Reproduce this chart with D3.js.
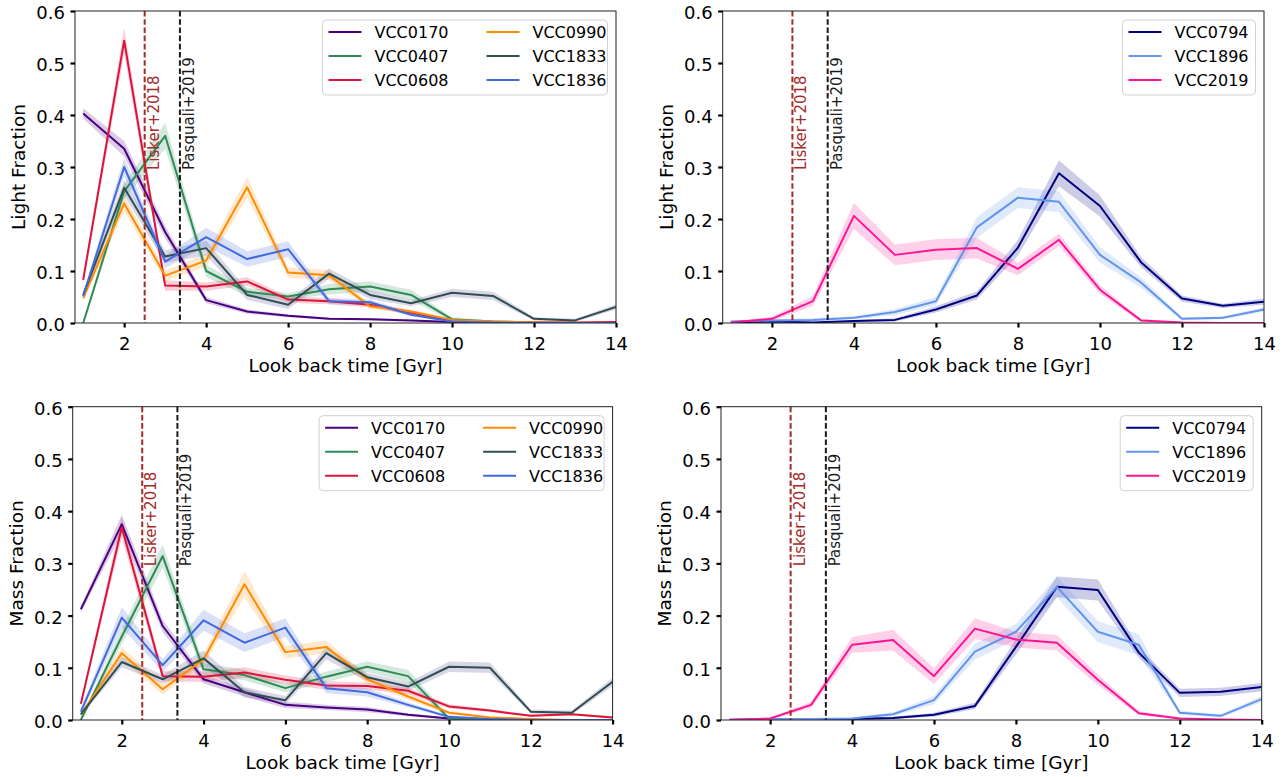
<!DOCTYPE html>
<html><head><meta charset="utf-8">
<script src="https://cdn.jsdelivr.net/npm/d3@7"></script>
<style>
body{margin:0;background:#fff}
svg{display:block}
text{font-family:"DejaVu Sans",sans-serif}
</style>
</head><body>
<svg id="chart" width="1288" height="777"></svg>
<script>
// ---------------- data ----------------
const lookbackGyr = [1,2,3,4,5,6,7,8,9,10,11,12,13,14];
const xTicks = [2,4,6,8,10,12,14];
const yTicks = [0,0.1,0.2,0.3,0.4,0.5,0.6];
const groupA = ["VCC0170","VCC0407","VCC0608","VCC0990","VCC1833","VCC1836"];
const groupB = ["VCC0794","VCC1896","VCC2019"];
const liskerGyr = 2.5;
const pasqualiGyr = 3.36;
const refLabelY = 0.3;

// light fractions
const lightVCC0170 = [0.403,0.335,0.175,0.044,0.022,0.014,0.008,0.007,0.005,0.002,0.001,0,0,0];
const lightVCC0407 = [0.000,0.253,0.360,0.100,0.060,0.051,0.065,0.070,0.054,0.007,0.003,0.001,0,0];
const lightVCC0608 = [0.083,0.543,0.072,0.070,0.080,0.045,0.042,0.035,0.020,0.005,0.002,0.001,0.001,0.002];
const lightVCC0990 = [0.048,0.230,0.091,0.120,0.261,0.097,0.092,0.032,0.022,0.006,0.003,0.001,0,0];
const lightVCC1833 = [0.054,0.260,0.128,0.144,0.054,0.035,0.095,0.054,0.038,0.058,0.052,0.008,0.005,0.031];
const lightVCC1836 = [0.052,0.300,0.118,0.165,0.123,0.142,0.042,0.040,0.016,0.003,0.001,0,0,0];
const lightVCC0794 = [0.001,0.003,0.001,0.004,0.006,0.026,0.053,0.145,0.288,0.225,0.117,0.047,0.033,0.041];
const lightVCC1896 = [0.003,0.005,0.006,0.010,0.021,0.042,0.184,0.241,0.233,0.131,0.078,0.008,0.010,0.026];
const lightVCC2019 = [0.001,0.008,0.042,0.206,0.131,0.141,0.144,0.104,0.160,0.064,0.005,0.001,0,0];

// light fraction uncertainties (half width of band)
const lightErrVCC0170 = [0.010,0.015,0.012,0.006,0.004,0.003,0.002,0.002,0.002,0.001,0.001,0,0,0];
const lightErrVCC0407 = [0.003,0.015,0.025,0.012,0.008,0.006,0.010,0.010,0.010,0.004,0.002,0.001,0.001,0.001];
const lightErrVCC0608 = [0.008,0.025,0.010,0.008,0.008,0.006,0.006,0.005,0.004,0.002,0.001,0.001,0.001,0.001];
const lightErrVCC0990 = [0.006,0.015,0.010,0.012,0.020,0.010,0.010,0.005,0.004,0.002,0.001,0.001,0,0];
const lightErrVCC1833 = [0.006,0.015,0.012,0.014,0.010,0.008,0.010,0.008,0.006,0.008,0.008,0.003,0.003,0.005];
const lightErrVCC1836 = [0.006,0.018,0.012,0.018,0.015,0.015,0.006,0.005,0.003,0.001,0.001,0,0,0];
const lightErrVCC0794 = [0.001,0.002,0.001,0.002,0.003,0.006,0.008,0.015,0.025,0.020,0.010,0.006,0.004,0.006];
const lightErrVCC1896 = [0.002,0.002,0.003,0.003,0.006,0.008,0.020,0.020,0.020,0.015,0.010,0.003,0.003,0.004];
const lightErrVCC2019 = [0.002,0.004,0.010,0.025,0.020,0.020,0.020,0.012,0.012,0.008,0.003,0.001,0,0];

// mass fractions
const massVCC0170 = [0.212,0.375,0.180,0.078,0.053,0.029,0.024,0.020,0.010,0.003,0.001,0,0,0];
const massVCC0407 = [0.000,0.160,0.314,0.097,0.086,0.061,0.083,0.102,0.084,0.003,0.001,0,0,0];
const massVCC0608 = [0.031,0.369,0.084,0.083,0.091,0.077,0.066,0.065,0.056,0.026,0.018,0.008,0.011,0.005];
const massVCC0990 = [0.010,0.128,0.059,0.116,0.260,0.130,0.140,0.078,0.045,0.014,0.005,0.002,0,0];
const massVCC1833 = [0.011,0.111,0.078,0.118,0.053,0.038,0.128,0.082,0.064,0.102,0.100,0.016,0.014,0.073];
const massVCC1836 = [0.016,0.196,0.105,0.191,0.148,0.177,0.061,0.053,0.029,0.006,0.002,0,0,0];
const massVCC0794 = [0.000,0.001,0.001,0.002,0.004,0.010,0.027,0.140,0.255,0.249,0.129,0.052,0.054,0.063];
const massVCC1896 = [0.001,0.002,0.002,0.003,0.011,0.038,0.131,0.169,0.255,0.169,0.144,0.014,0.008,0.040];
const massVCC2019 = [0.000,0.003,0.029,0.144,0.153,0.084,0.175,0.154,0.148,0.077,0.013,0.003,0.001,0];

// mass fraction uncertainties
const massErrVCC0170 = [0.006,0.018,0.012,0.008,0.008,0.006,0.005,0.005,0.003,0.002,0.001,0,0,0];
const massErrVCC0407 = [0.003,0.015,0.022,0.012,0.010,0.008,0.010,0.010,0.012,0.004,0.002,0.001,0.001,0.001];
const massErrVCC0608 = [0.005,0.020,0.010,0.010,0.010,0.008,0.008,0.007,0.006,0.004,0.003,0.002,0.002,0.002];
const massErrVCC0990 = [0.004,0.012,0.010,0.010,0.025,0.012,0.012,0.008,0.006,0.003,0.002,0.001,0,0];
const massErrVCC1833 = [0.004,0.010,0.008,0.015,0.010,0.008,0.012,0.008,0.008,0.010,0.010,0.004,0.004,0.008];
const massErrVCC1836 = [0.006,0.020,0.012,0.020,0.018,0.018,0.010,0.008,0.005,0.002,0.001,0,0,0];
const massErrVCC0794 = [0.001,0.001,0.001,0.002,0.002,0.004,0.006,0.015,0.020,0.020,0.010,0.008,0.008,0.008];
const massErrVCC1896 = [0.001,0.002,0.002,0.002,0.004,0.008,0.015,0.015,0.020,0.020,0.020,0.004,0.003,0.006];
const massErrVCC2019 = [0.001,0.002,0.006,0.015,0.020,0.015,0.020,0.015,0.015,0.010,0.004,0.002,0.001,0.001];

// ---------------- styles ----------------
const lineColor = {
  VCC0170:"#4b0082", VCC0407:"#2e8b57", VCC0608:"#dc143c", VCC0990:"#ff8c00",
  VCC1833:"#2f4f4f", VCC1836:"#4169e1", VCC0794:"#000080", VCC1896:"#6495ed", VCC2019:"#ff1493"
};
const bandColor = Object.assign({}, lineColor, {VCC1833:"#483d8b"});

const lightData = {VCC0170:lightVCC0170,VCC0407:lightVCC0407,VCC0608:lightVCC0608,VCC0990:lightVCC0990,VCC1833:lightVCC1833,VCC1836:lightVCC1836,VCC0794:lightVCC0794,VCC1896:lightVCC1896,VCC2019:lightVCC2019};
const lightErr = {VCC0170:lightErrVCC0170,VCC0407:lightErrVCC0407,VCC0608:lightErrVCC0608,VCC0990:lightErrVCC0990,VCC1833:lightErrVCC1833,VCC1836:lightErrVCC1836,VCC0794:lightErrVCC0794,VCC1896:lightErrVCC1896,VCC2019:lightErrVCC2019};
const massData = {VCC0170:massVCC0170,VCC0407:massVCC0407,VCC0608:massVCC0608,VCC0990:massVCC0990,VCC1833:massVCC1833,VCC1836:massVCC1836,VCC0794:massVCC0794,VCC1896:massVCC1896,VCC2019:massVCC2019};
const massErr = {VCC0170:massErrVCC0170,VCC0407:massErrVCC0407,VCC0608:massErrVCC0608,VCC0990:massErrVCC0990,VCC1833:massErrVCC1833,VCC1836:massErrVCC1836,VCC0794:massErrVCC0794,VCC1896:massErrVCC1896,VCC2019:massErrVCC2019};

const panels = [
  {L:75,   T:11,    R:616,    B:323, ylabel:"Light Fraction", names:groupA, data:lightData, err:lightErr, legW:285},
  {L:722.7,T:11,    R:1264,   B:323, ylabel:"Light Fraction", names:groupB, data:lightData, err:lightErr, legW:133},
  {L:72.7, T:406.7, R:612.6,  B:720, ylabel:"Mass Fraction",  names:groupA, data:massData,  err:massErr,  legW:285},
  {L:721,  T:406.7, R:1261.7, B:720, ylabel:"Mass Fraction",  names:groupB, data:massData,  err:massErr,  legW:133}
];

const svg = d3.select("#chart");

panels.forEach((p, pi) => {
  const x = d3.scaleLinear().domain([0.8, 14]).range([p.L, p.R]);
  const y = d3.scaleLinear().domain([0, 0.6]).range([p.B, p.T]);
  const g = svg.append("g");

  const clipId = "clip" + pi;
  svg.append("clipPath").attr("id", clipId)
    .append("rect").attr("x", p.L).attr("y", p.T).attr("width", p.R - p.L).attr("height", p.B - p.T);
  const plot = g.append("g").attr("clip-path", `url(#${clipId})`);

  const area = d3.area().x(d => x(d.t)).y0(d => y(d.v - d.e)).y1(d => y(d.v + d.e));
  const line = d3.line().x(d => x(d.t)).y(d => y(d.v));

  p.names.forEach(n => {
    const pts = lookbackGyr.map((t, i) => ({t, v: p.data[n][i], e: p.err[n][i]}));
    plot.append("path").datum(pts).attr("d", area)
      .attr("fill", bandColor[n]).attr("fill-opacity", 0.2).attr("stroke", "none");
  });
  p.names.forEach(n => {
    const pts = lookbackGyr.map((t, i) => ({t, v: p.data[n][i]}));
    plot.append("path").datum(pts).attr("d", line)
      .attr("fill", "none").attr("stroke", lineColor[n]).attr("stroke-width", 2)
      .attr("stroke-linejoin", "round");
  });

  // reference lines
  const refs = [
    {v: liskerGyr, color: "#a52a2a", label: "Lisker+2018"},
    {v: pasqualiGyr, color: "#1a1a1a", label: "Pasquali+2019"}
  ];
  refs.forEach(r => {
    g.append("line").attr("x1", x(r.v)).attr("x2", x(r.v)).attr("y1", p.T).attr("y2", p.B)
      .attr("stroke", r.color).attr("stroke-width", 2).attr("stroke-dasharray", "5.6,2.6");
    g.append("text")
      .attr("transform", `translate(${x(r.v) + 14},${y(refLabelY) + 3}) rotate(-90)`)
      .attr("font-size", "15px").attr("fill", r.color).text(r.label);
  });

  // frame
  g.append("rect").attr("x", p.L).attr("y", p.T).attr("width", p.R - p.L).attr("height", p.B - p.T)
    .attr("fill", "none").attr("stroke", "#222").attr("stroke-width", 1);

  // x axis
  const xa = g.append("g").attr("transform", `translate(0,${p.B})`)
    .call(d3.axisBottom(x).tickValues(xTicks).tickSize(4.5).tickSizeOuter(0).tickFormat(d3.format("d")));
  xa.select(".domain").remove();
  xa.selectAll(".tick line").attr("stroke", "#000").attr("stroke-width", 2.2);
  xa.selectAll(".tick text").attr("y", 26.5).attr("dy", null).attr("font-size", "18px")
    .attr("font-family", "DejaVu Sans").attr("fill", "#000");

  // y axis
  const ya = g.append("g").attr("transform", `translate(${p.L},0)`)
    .call(d3.axisLeft(y).tickValues(yTicks).tickSize(4.5).tickSizeOuter(0).tickFormat(d3.format(".1f")));
  ya.select(".domain").remove();
  ya.selectAll(".tick line").attr("stroke", "#000").attr("stroke-width", 2.2);
  ya.selectAll(".tick text").attr("x", -10).attr("dy", "7.5px").attr("font-size", "18px")
    .attr("font-family", "DejaVu Sans").attr("fill", "#000");

  // axis labels
  g.append("text").attr("x", (p.L + p.R) / 2).attr("y", p.B + 49)
    .attr("text-anchor", "middle").attr("font-size", "18.5px").text("Look back time [Gyr]");
  g.append("text").attr("transform", `translate(${p.L - 50},${(p.T + p.B) / 2}) rotate(-90)`)
    .attr("text-anchor", "middle").attr("font-size", "18.5px").text(p.ylabel);

  // legend
  const legR = p.R - 8.5, legT = p.T + 9, legH = 75;
  const legL = legR - p.legW;
  const lg = g.append("g");
  lg.append("rect").attr("x", legL).attr("y", legT).attr("width", p.legW).attr("height", legH)
    .attr("rx", 4).attr("fill", "#fff").attr("fill-opacity", 0.8).attr("stroke", "#d0d0d0").attr("stroke-width", 1);
  p.names.forEach((n, i) => {
    const col = Math.floor(i / 3), row = i % 3;
    const x0 = legL + 6 + col * 158;
    const yy = legT + 12 + row * 24;
    lg.append("line").attr("x1", x0).attr("x2", x0 + 33).attr("y1", yy).attr("y2", yy)
      .attr("stroke", lineColor[n]).attr("stroke-width", 2);
    lg.append("text").attr("x", x0 + 46).attr("y", yy).attr("dy", "0.365em")
      .attr("font-size", "16px").attr("fill", "#000").text(n);
  });
});
</script>
</body></html>
